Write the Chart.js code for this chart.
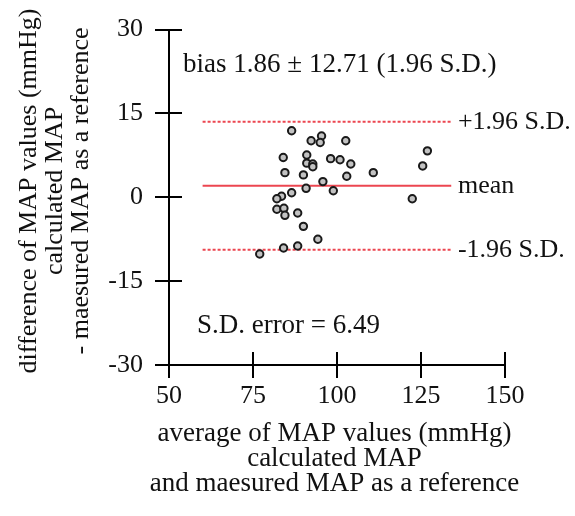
<!DOCTYPE html>
<html>
    <head>
        <script src="https://cdn.jsdelivr.net/npm/chart.js"></script>
        <title>Bland-Altman MAP</title>
        <style>
            body { margin: 0; background: #fff; }
        </style>
    </head>
    <body>
        <canvas id="myChart" width="575" height="516"></canvas>

        <script>
            // average of MAP values (x) and difference (y)
            const avgMAP = [86.5, 92.3, 95.4, 95.0, 102.6, 84.0, 91.0, 91.0, 92.8, 92.8,
                            98.1, 100.9, 104.1, 84.5, 90.0, 102.9, 95.8, 90.8, 98.9, 86.5,
                            83.5, 82.1, 82.1, 84.2, 84.5, 88.3, 90.0, 94.3, 84.1, 88.3,
                            77.0, 110.8, 126.9, 125.5, 122.4];
            const diffMAP = [11.9, 10.1, 10.95, 9.8, 10.1, 7.1, 7.55, 6.1, 5.95, 5.45,
                             6.9, 6.7, 5.95, 4.4, 4.0, 3.75, 2.8, 1.6, 1.17, 0.81,
                             0.17, -0.26, -2.15, -1.98, -3.23, -2.82, -5.2, -7.52, -9.08, -8.72,
                             -10.15, 4.4, 8.3, 5.6, -0.26];

            const lineX = [60, 134];
            const meanDiff = 2.07;
            const upperLoA = 13.5;
            const lowerLoA = -9.4;

            const xTicks = [50, 75, 100, 125, 150];
            const yTicks = [-30, -15, 0, 15, 30];

            const lineLabels = ['+1.96 S.D.', 'mean', '-1.96 S.D.'];
            const biasText = 'bias 1.86 \u00b1 12.71 (1.96 S.D.)';
            const sdText = 'S.D. error = 6.49';
            const xTitle = ['average of MAP values (mmHg)', 'calculated MAP', 'and maesured MAP as a reference'];
            const yTitle = ['difference of MAP values (mmHg)', 'calculated MAP', '- maesured MAP as a reference'];

            const serif = '"Liberation Serif", "Times New Roman", serif';
            const red = '#ec4650';

            const points = avgMAP.map((v, i) => ({x: v, y: diffMAP[i]}));
            const hline = (val) => lineX.map(v => ({x: v, y: val}));

            // ticks in the reference cross the axis line, Chart.js only draws the outer half.
            // axis titles drawn here too so that Chart.js does not squeeze them to the scale width
            const extras = {
                id: 'extras',
                afterDraw(chart) {
                    const {ctx, chartArea: a, scales: {x, y}} = chart;
                    ctx.save();
                    ctx.strokeStyle = '#000';
                    ctx.lineWidth = 2;
                    ctx.beginPath();
                    xTicks.forEach(t => {
                        const px = Math.round(x.getPixelForValue(t));
                        ctx.moveTo(px, a.bottom);
                        ctx.lineTo(px, a.bottom - 13);
                    });
                    yTicks.forEach(t => {
                        const py = Math.round(y.getPixelForValue(t));
                        ctx.moveTo(a.left, py);
                        ctx.lineTo(a.left + 13, py);
                    });
                    ctx.stroke();

                    ctx.fillStyle = '#111';
                    ctx.textBaseline = 'middle';
                    ctx.textAlign = 'left';
                    ctx.font = '27px ' + serif;
                    ctx.fillText(biasText, x.getPixelForValue(54.2), y.getPixelForValue(23.7));
                    ctx.fillText(sdText, x.getPixelForValue(58.3), y.getPixelForValue(-23.0));
                    ctx.font = '26px ' + serif;
                    const lx = x.getPixelForValue(136);
                    [upperLoA, meanDiff, lowerLoA].forEach((v, i) => {
                        ctx.fillText(lineLabels[i], lx, y.getPixelForValue(v));
                    });

                    ctx.textBaseline = 'alphabetic';
                    ctx.textAlign = 'center';
                    ctx.font = '27px ' + serif;
                    xTitle.forEach((s, i) => ctx.fillText(s, 334.5, 441 + i * 25));

                    ctx.font = '26px ' + serif;
                    yTitle.forEach((s, i) => {
                        ctx.save();
                        ctx.translate(36 + i * 26, 191);
                        ctx.rotate(-Math.PI / 2);
                        ctx.fillText(s, 0, 0);
                        ctx.restore();
                    });
                    ctx.restore();
                }
            };

            const ctx = document.getElementById('myChart').getContext('2d');

            const myChart = new Chart(ctx, {
                type: 'scatter',
                plugins: [extras],
                data: {
                    datasets: [
                        {
                            label: 'Differences',
                            data: points,
                            backgroundColor: '#c2c2c2',
                            borderColor: '#1a1a1a',
                            borderWidth: 2,
                            pointRadius: 3.7,
                            order: 0
                        },
                        {
                            label: 'mean',
                            data: hline(meanDiff),
                            showLine: true,
                            borderColor: red,
                            borderWidth: 2,
                            pointRadius: 0,
                            order: 1
                        },
                        {
                            label: '+1.96 S.D.',
                            data: hline(upperLoA),
                            showLine: true,
                            borderColor: red,
                            borderWidth: 2,
                            borderDash: [3, 2],
                            pointRadius: 0,
                            order: 1
                        },
                        {
                            label: '-1.96 S.D.',
                            data: hline(lowerLoA),
                            showLine: true,
                            borderColor: red,
                            borderWidth: 2,
                            borderDash: [3, 2],
                            pointRadius: 0,
                            order: 1
                        }
                    ]
                },
                options: {
                    responsive: false,
                    animation: false,
                    layout: {
                        padding: {top: 29.5, right: 70, left: 0, bottom: 0}
                    },
                    plugins: {
                        legend: {display: false},
                        tooltip: {enabled: false}
                    },
                    scales: {
                        x: {
                            type: 'linear',
                            min: 50,
                            max: 150,
                            afterFit: (scale) => { scale.height = 151; },
                            afterBuildTicks: (scale) => { scale.ticks = xTicks.map(v => ({value: v})); },
                            border: {display: true, color: '#000', width: 2},
                            grid: {display: true, drawOnChartArea: false, drawTicks: true, tickLength: 13, color: '#000', lineWidth: 2},
                            ticks: {
                                color: '#111',
                                padding: 3,
                                maxRotation: 0,
                                font: {family: serif, size: 26, lineHeight: 1.2}
                            },
                            title: {display: false}
                        },
                        y: {
                            type: 'linear',
                            min: -30,
                            max: 30,
                            afterFit: (scale) => { scale.width = 169; },
                            afterBuildTicks: (scale) => { scale.ticks = yTicks.map(v => ({value: v})); },
                            border: {display: true, color: '#000', width: 2},
                            grid: {display: true, drawOnChartArea: false, drawTicks: true, tickLength: 14, color: '#000', lineWidth: 2},
                            ticks: {
                                color: '#111',
                                padding: 12,
                                font: {family: serif, size: 26, lineHeight: 1.2}
                            },
                            title: {display: false}
                        }
                    }
                }
            });
        </script>
    </body>
</html>
